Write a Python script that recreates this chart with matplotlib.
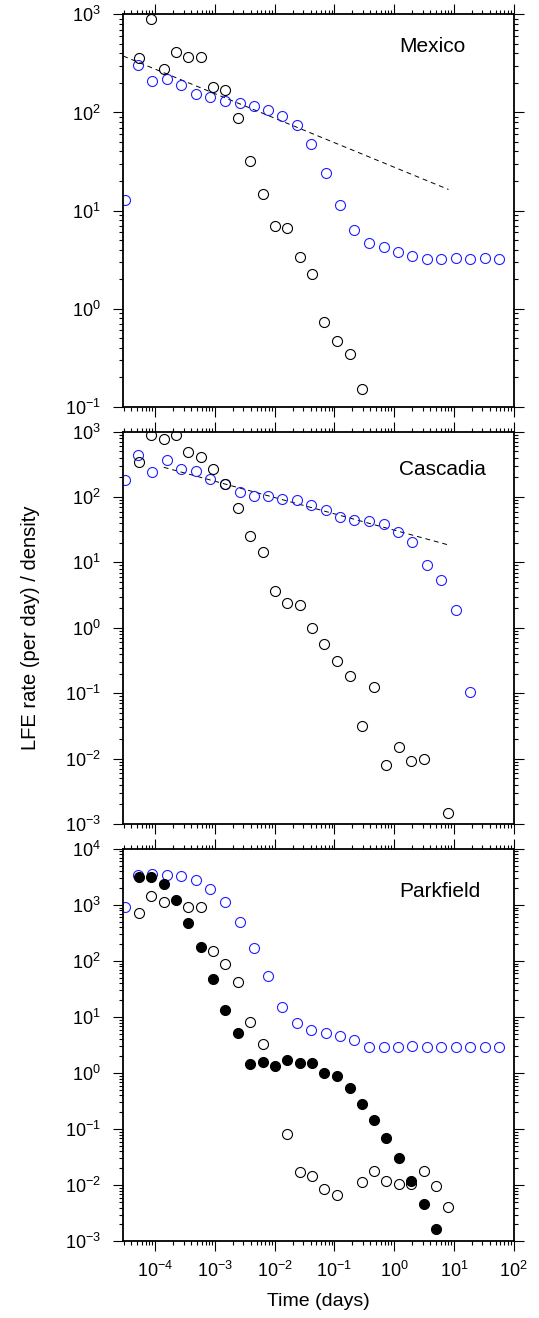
import numpy as np
import matplotlib
matplotlib.use("Agg")
import matplotlib.pyplot as plt
from matplotlib.ticker import LogLocator, LogFormatterSciNotation, NullFormatter

# Helvetica-like look for everything, including the 10^n tick labels
plt.rcParams['font.family'] = ['Liberation Sans', 'DejaVu Sans']
plt.rcParams['mathtext.fontset'] = 'custom'
plt.rcParams['mathtext.rm'] = 'Liberation Sans'
plt.rcParams['mathtext.it'] = 'Liberation Sans:italic'
plt.rcParams['mathtext.bf'] = 'Liberation Sans:bold'

# time bins (days) of the black series and of the blue series
t_black = [5.30e-5, 8.65e-5, 1.39e-4, 2.21e-4, 3.56e-4, 5.74e-4, 9.25e-4, 1.49e-3,
           2.39e-3, 3.91e-3, 6.29e-3, 1.01e-2, 1.63e-2, 2.63e-2, 4.23e-2, 6.81e-2,
           0.111, 0.179, 0.284, 0.464, 0.738, 1.19, 1.94, 3.12, 5.02, 8.09]
t_blue = [3.08e-5, 5.16e-5, 9.0e-5, 1.57e-4, 2.73e-4, 4.83e-4, 8.42e-4, 1.47e-3,
          2.59e-3, 4.46e-3, 7.67e-3, 1.34e-2, 2.36e-2, 4.07e-2, 7.10e-2, 0.124,
          0.215, 0.380, 0.663, 1.16, 2.02, 3.52, 6.13, 10.7, 18.6, 32.5, 56.6]

nan = np.nan

# Mexico
mex_black = [356, 896, 277, 416, 367, 365, 182, 171, 88.4, 32.2, 14.8, 6.9, 6.58,
             3.33, 2.27, 0.724, 0.463, 0.344, 0.150, nan, nan, nan, nan, nan, nan, nan]
mex_blue = [12.7, 304, 209, 217, 190, 154, 144, 132, 124, 116, 106, 92.7, 73.9, 47.6,
            24.3, 11.5, 6.28, 4.70, 4.25, 3.78, 3.44, 3.18, 3.20, 3.30, 3.20, 3.25, 3.22]
mex_fit_t = [2.92e-5, 8.1]
mex_fit_r = [376, 16.4]

# Cascadia
cas_black = [344, 900, 764, 900, 483, 415, 269, 160, 68, 25.1, 14.4, 3.70, 2.43, 2.24,
             0.98, 0.566, 0.307, 0.183, 0.0315, 0.126, 0.0079, 0.0149, 0.0093, 0.0099,
             nan, 0.00146]
cas_blue = [180, 434, 239, 364, 269, 250, 187, 158, 119, 105, 103, 93.4, 91.2, 74.7,
            62.6, 50.1, 45.1, 42.5, 38.3, 29.2, 20.8, 9.14, 5.33, 1.87, 0.103, nan, nan]
cas_fit_t = [1.39e-4, 7.78]
cas_fit_r = [285, 18.7]

# Parkfield
park_open = [710, 1429, 1147, nan, 921, 909, 153, 89.6, 42.7, 8.03, 3.34, nan, 0.0837,
             0.0171, 0.0149, 0.0085, 0.00672, nan, 0.0116, 0.0178, 0.0119, 0.0107,
             0.0107, 0.0178, 0.00973, 0.00416]
park_filled = [3162, 3206, 2339, 1228, 471, 175, 47.7, 13.5, 5.25, 1.43, 1.55, 1.35,
               1.75, 1.53, 1.49, 1.0, 0.883, 0.532, 0.287, 0.147, 0.069, 0.030, 0.0119,
               0.00458, 0.00168, nan]
park_blue = [909, 3435, 3529, 3483, 3296, 2758, 1958, 1116, 490, 171, 54.7, 15.3, 7.71,
             5.94, 5.11, 4.51, 3.88, 2.95, 2.87, 2.87, 2.99, 2.87, 2.87, 2.87, 2.95, 2.95, 2.87]

xlim = (2.92e-5, 100)
ms, mew = 7.2, 0.8
blue = '#1f1fff'


def style_axes(ax, ylim, show_x):
    ax.set_xscale('log')
    ax.set_yscale('log')
    ax.set_xlim(*xlim)
    ax.set_ylim(*ylim)
    for a in (ax.xaxis, ax.yaxis):
        a.set_major_locator(LogLocator(base=10, numticks=30))
        a.set_minor_locator(LogLocator(base=10, subs=np.arange(2, 10), numticks=30))
        a.set_minor_formatter(NullFormatter())
    ax.yaxis.set_major_formatter(LogFormatterSciNotation())
    if show_x:
        ax.xaxis.set_major_formatter(LogFormatterSciNotation())
    else:
        ax.xaxis.set_major_formatter(NullFormatter())
    ax.tick_params(which='both', direction='out', top=True, right=True, width=0.8,
                   labelsize=13)
    ax.tick_params(which='major', length=7)
    ax.tick_params(which='minor', length=3.2)
    ax.tick_params(axis='y', which='major', pad=9)
    ax.tick_params(axis='x', which='major', pad=7)
    for s in ax.spines.values():
        s.set_linewidth(1.3)


def open_pts(ax, t, r, color):
    ax.plot(t, r, 'o', ms=ms, mfc='none', mec=color, mew=mew, linestyle='none')


fig = plt.figure(figsize=(5.39, 13.18), dpi=100)
left, width, height = 0.2286, 0.7245, 0.2977
ax1 = fig.add_axes([left, 0.6914, width, height])
ax2 = fig.add_axes([left, 0.3748, width, height])
ax3 = fig.add_axes([left, 0.0582, width, height])

# Mexico
ax1.plot(mex_fit_t, mex_fit_r, color='black', lw=0.7, linestyle=(0, (5, 4)))
open_pts(ax1, t_blue, mex_blue, blue)
open_pts(ax1, t_black, mex_black, 'black')
style_axes(ax1, (0.1, 1000), False)
ax1.text(0.707, 0.903, 'Mexico', transform=ax1.transAxes, fontsize=15, va='baseline')

# Cascadia
ax2.plot(cas_fit_t, cas_fit_r, color='black', lw=0.7, linestyle=(0, (5, 4)))
open_pts(ax2, t_blue, cas_blue, blue)
open_pts(ax2, t_black, cas_black, 'black')
style_axes(ax2, (1e-3, 1000), False)
ax2.text(0.707, 0.890, 'Cascadia', transform=ax2.transAxes, fontsize=15, va='baseline')
ax2.set_ylabel('LFE rate (per day) / density', fontsize=14.5, labelpad=18)

# Parkfield
open_pts(ax3, t_blue, park_blue, blue)
open_pts(ax3, t_black, park_open, 'black')
ax3.plot(t_black, park_filled, 'o', ms=ms, mfc='black', mec='black', mew=mew,
         linestyle='none')
style_axes(ax3, (1e-3, 1e4), True)
ax3.text(0.707, 0.878, 'Parkfield', transform=ax3.transAxes, fontsize=15, va='baseline')
ax3.set_xlabel('Time (days)', fontsize=14, labelpad=9)

fig.savefig('out.png', dpi=100)
